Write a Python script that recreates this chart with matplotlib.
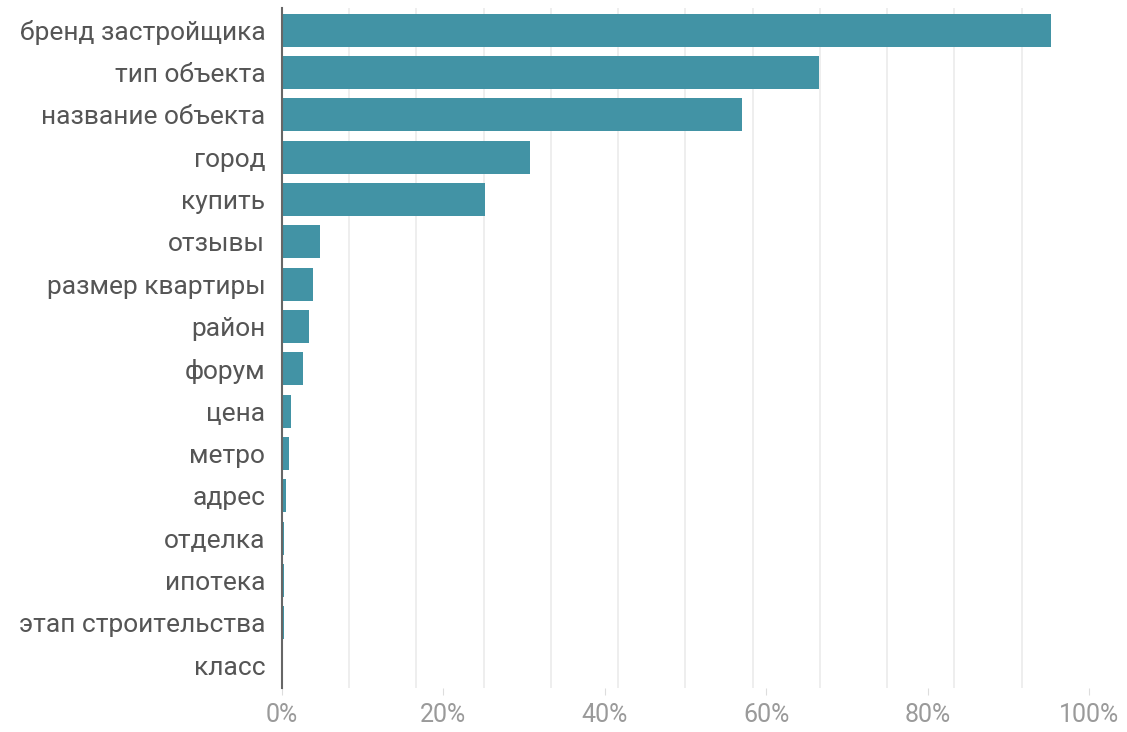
import numpy as np
import matplotlib.pyplot as plt
from matplotlib.ticker import FixedLocator

plt.rcParams['font.family'] = ['Roboto', 'DejaVu Sans']

categories = ["бренд застройщика", "тип объекта", "название объекта", "город",
              "купить", "отзывы", "размер квартиры", "район", "форум", "цена",
              "метро", "адрес", "отделка", "ипотека", "этап строительства", "класс"]
values = [95.3, 66.5, 57.0, 30.7, 25.2, 4.7, 3.9, 3.4, 2.6, 1.1,
          0.9, 0.5, 0.3, 0.3, 0.2, 0.05]
tick_values = [0, 20, 40, 60, 80, 100]
tick_labels = ["0%", "20%", "40%", "60%", "80%", "100%"]

fig = plt.figure(figsize=(11.27, 7.32), dpi=100)
ax = fig.add_axes([0.2502, 0.060, 0.716, 0.929])

y = np.arange(len(categories))
ax.barh(y, values, height=0.78, color="#4293a5", zorder=3)

ax.set_xlim(0, 100)
ax.set_ylim(len(categories) - 0.46, -0.52)
ax.set_yticks(y)
ax.set_yticklabels(categories, fontsize=19, color="#555555")
ax.set_xticks(tick_values)
ax.set_xticklabels(tick_labels, fontsize=18, color="#9a9a9a")

# gridlines do not line up with the labels in the original
ax.xaxis.set_minor_locator(FixedLocator(np.linspace(0, 100, 13)))
ax.grid(True, axis="x", which="minor", color="#ebebeb", linewidth=1.2, zorder=0)
ax.grid(False, axis="x", which="major")

ax.tick_params(axis="y", length=0, pad=12)
ax.tick_params(axis="x", which="major", length=5, color="#dddddd", pad=6)
ax.tick_params(axis="x", which="minor", length=0)

for side in ["top", "right", "bottom"]:
    ax.spines[side].set_visible(False)
ax.spines["left"].set_color("#666666")
ax.spines["left"].set_linewidth(1.5)
ax.spines["left"].set_zorder(4)

fig.savefig("out.png", dpi=100)
